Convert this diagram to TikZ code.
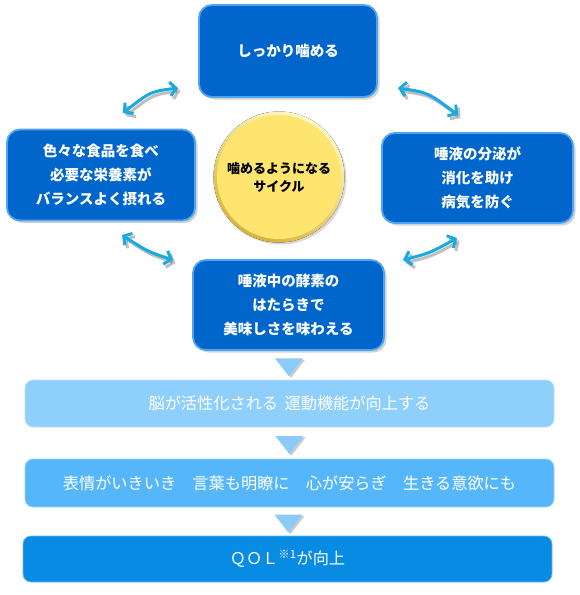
\documentclass[tikz,border=0pt]{standalone}
\usepackage{fontspec}
\setmainfont{Noto Sans CJK JP}
\usepackage{tikz}
\usetikzlibrary{shadows,shapes.geometric,arrows.meta,calc}

\definecolor{cycblue}{RGB}{0,102,204}
\definecolor{rimblue}{RGB}{80,165,240}
\definecolor{arrowcyan}{RGB}{26,170,226}
\definecolor{ballyellow}{RGB}{254,229,112}
\definecolor{ballrimhi}{RGB}{255,248,200}
\definecolor{ballrimlo}{RGB}{215,180,60}
\definecolor{stepone}{RGB}{143,207,251}
\definecolor{steptwo}{RGB}{85,183,249}
\definecolor{stepthree}{RGB}{7,139,227}
\definecolor{tricyan}{RGB}{140,203,248}

\begin{document}
\begin{tikzpicture}[x=1pt,y=-1pt,
  cyclebox/.style={draw=rimblue, line width=1.8pt, fill=cycblue, rounded corners=13pt,
    minimum width=188pt, minimum height=91pt, align=center, text=white,
    font=\bfseries\fontsize{14.5}{24}\selectfont,
    drop shadow={shadow xshift=2.5pt,shadow yshift=-2.5pt,opacity=.35}},
  stepbox/.style={rounded corners=8pt, minimum width=529pt, minimum height=47pt,
    text=white, font=\fontsize{16.2}{18}\selectfont, line width=.8pt},
  downtri/.style={isosceles triangle, isosceles triangle stretches, shape border rotate=-90,
    minimum width=28pt, minimum height=18pt, inner sep=0pt, fill=tricyan,
    drop shadow={shadow xshift=2pt,shadow yshift=-1.5pt,opacity=.4}},
  cyclearrow/.style={arrowcyan, line width=3pt,
    {Straight Barb[length=6pt,width=14pt]}-{Straight Barb[length=6pt,width=14pt]}},
  arrowshadow/.style={cyclearrow, black, opacity=.25, transform canvas={shift={(2.5pt,-3pt)}}}
]

\useasboundingbox (0,0) rectangle (579,595);

% Ciclo
\node[cyclebox, minimum width=178pt, minimum height=92pt] (chew) at (288,51) {しっかり噛める};
\node[cyclebox] (food) at (101,175) {色々な食品を食べ\\必要な栄養素が\\バランスよく摂れる};
\node[cyclebox, minimum width=191pt, minimum height=90pt] (digest) at (477.5,178) {唾液の分泌が\\消化を助け\\病気を防ぐ};
\node[cyclebox, minimum width=191pt, minimum height=90pt] (taste) at (288.5,305) {唾液中の酵素の\\はたらきで\\美味しさを味わえる};

% Centro
\fill[shading=axis, top color=ballrimhi, bottom color=ballrimlo, shading angle=-30,
  drop shadow={shadow xshift=2pt,shadow yshift=-2pt,opacity=.3}] (279,177) circle (65.5);
\node[circle, fill=ballyellow, minimum size=124pt, inner sep=0pt, align=center,
  font=\bfseries\fontsize{13}{18}\selectfont] (ball) at (279,177) {噛めるようになる\\サイクル};

% Flechas del ciclo
\coordinate (tl1) at (123,113);
\coordinate (tl2) at (178,88);
\coordinate (tr1) at (398,88);
\coordinate (tr2) at (458,115);
\coordinate (bl1) at (122,235);
\coordinate (bl2) at (173,260);
\coordinate (br1) at (403,260);
\coordinate (br2) at (457,238);
\foreach \a/\b/\bow in {tl1/tl2/-9, tr1/tr2/-9, bl1/bl2/4, br1/br2/4} {
  \draw[arrowshadow] (\a) .. controls ($(\a)!.5!(\b)+(0,\bow)$) .. (\b);
  \draw[cyclearrow] (\a) .. controls ($(\a)!.5!(\b)+(0,\bow)$) .. (\b);
}

% Resultados
\node[stepbox, fill=stepone, draw=stepone!60!white] (brain) at (289.5,403.5) {脳が活性化される\hspace{0.4em}運動機能が向上する};
\node[stepbox, fill=steptwo, draw=steptwo!60!white, minimum height=48pt] (face) at (289.5,483) {表情がいきいき　言葉も明瞭に　心が安らぎ　生きる意欲にも};
\node[stepbox, fill=stepthree, draw=stepthree!60!white, minimum height=46pt] (qol) at (287.5,559) {ＱＯＬ\textsuperscript{※1}が向上};

% Triangulos
\node[downtri] (t1) at ($(taste.south)!.5!(brain.north)$) {};
\node[downtri] (t2) at ($(brain.south)!.5!(face.north)$) {};
\node[downtri] (t3) at ($(face.south)!.5!(qol.north)$) {};

\end{tikzpicture}
\end{document}
